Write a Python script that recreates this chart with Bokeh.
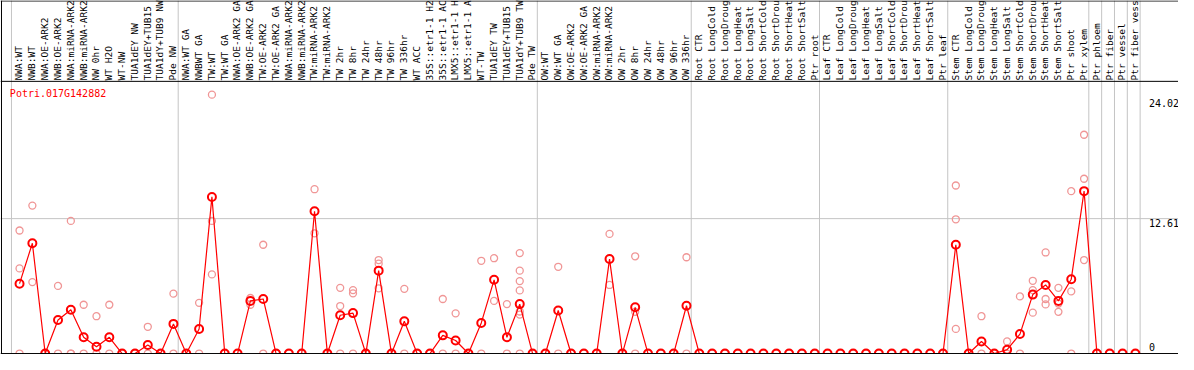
from bokeh.plotting import figure
from bokeh.models import Range1d, Span, ColumnDataSource
from bokeh.core.properties import value
from bokeh.embed import file_html
from bokeh.resources import INLINE
import math

gene_id = "Potri.017G142882"

samples = [
    "NWA:WT", "NWB:WT", "NWA:OE-ARK2", "NWB:OE-ARK2", "NWA:miRNA-ARK2", "NWB:miRNA-ARK2",
    "NW 0hr", "WT H2O", "WT-NW", "TUA1dEY NW", "TUA1dEY+TUB15", "TUA1dY+TUB9 NW", "Pde NW",
    "NWA:WT GA", "NWBWT GA", "TW:WT", "TW:WT GA", "NWA:OE-ARK2 GA", "NWB:OE-ARK2 GA",
    "TW:OE-ARK2", "TW:OE-ARK2 GA", "NWA:miRNA-ARK2", "NWB:miRNA-ARK2", "TW:miRNA-ARK2",
    "TW:miRNA-ARK2", "TW 2hr", "TW 8hr", "TW 24hr", "TW 48hr", "TW 96hr", "TW 336hr",
    "WT ACC", "35S::etr1-1 H2", "35S::etr1-1 AC", "LMX5::etr1-1 H", "LMX5::etr1-1 A",
    "WT-TW", "TUA1dEY TW", "TUA1dEY+TUB15", "TUA1dY+TUB9 TW", "Pde TW",
    "OW:WT", "OW:WT GA", "OW:OE-ARK2", "OW:OE-ARK2 GA", "OW:miRNA-ARK2", "OW:miRNA-ARK2",
    "OW 2hr", "OW 8hr", "OW 24hr", "OW 48hr", "OW 96hr", "OW 336hr",
    "Root CTR", "Root LongCold", "Root LongDroug", "Root LongHeat", "Root LongSalt",
    "Root ShortCold", "Root ShortDrou", "Root ShortHeat", "Root ShortSalt", "Ptr root",
    "Leaf CTR", "Leaf LongCold", "Leaf LongDroug", "Leaf LongHeat", "Leaf LongSalt",
    "Leaf ShortCold", "Leaf ShortDrou", "Leaf ShortHeat", "Leaf ShortSalt", "Ptr leaf",
    "Stem CTR", "Stem LongCold", "Stem LongDroug", "Stem LongHeat", "Stem LongSalt",
    "Stem ShortCold", "Stem ShortDrou", "Stem ShortHeat", "Stem ShortSalt", "Ptr shoot",
    "Ptr xylem",
    "Ptr phloem", "Ptr fiber", "Ptr vessel", "Ptr fiber vess",
]

group_sizes = [13, 28, 12, 10, 10, 11, 1, 1, 1, 1]

mean_values = [
    6.53, 10.31, 0, 3.13, 4.09, 1.52, 0.63, 1.52, 0, 0, 0.80, 0, 2.77,
    0, 2.30, 14.64, 0, 0, 4.92, 5.10, 0, 0, 0, 13.30, 0, 3.58, 3.78, 0, 7.75, 0,
    3.01, 0, 0, 1.70, 1.22, 0, 2.86, 6.89, 1.52, 4.62, 0,
    0, 4.02, 0, 0, 0, 8.83, 0, 4.32, 0, 0, 0, 4.47,
    0, 0, 0, 0, 0, 0, 0, 0, 0, 0,
    0, 0, 0, 0, 0, 0, 0, 0, 0, 0,
    10.17, 0, 1.13, 0, 0.36, 1.82, 5.51, 6.41, 4.92, 6.95, 15.18,
    0, 0, 0, 0,
]

replicates = [
    [11.5, 7.96, 0], [13.83, 6.68], [0], [6.32, 0], [12.4, 0, 0], [4.56, 0], [3.49, 0],
    [4.56, 0], [0], [0], [2.5, 0], [0], [5.6, 0],
    [0], [4.74, 0], [24.2, 12.4, 7.4], [0], [0], [5.19, 4.56], [10.17, 0], [0], [0], [0],
    [15.36, 11.24], [0], [6.14, 4.44, 0], [5.93, 5.63, 0], [0], [8.74, 8.4, 6.1], [0],
    [6.05, 0], [0], [0], [5.1, 0], [3.76, 0], [0], [8.67, 0], [8.91, 4.92], [4.62, 0],
    [9.39, 7.75, 6.77, 5.9, 3.93, 3.64, 0], [0],
    [0], [8.11, 0], [0], [0], [0], [11.18, 6.41], [0], [9.09, 3.9, 0], [0], [0], [0],
    [9.0, 0],
    [0], [0], [0], [0], [0], [0], [0], [0], [0], [0],
    [0], [0], [0], [0], [0], [0], [0], [0], [0], [0],
    [15.71, 12.55, 2.3], [0], [3.49, 0], [0], [1.13, 0], [5.34, 0], [6.8, 5.93, 3.82],
    [9.45, 5.1, 4.59], [6.14, 4.68, 3.9], [15.18, 5.81, 0], [20.45, 16.34, 8.74],
    [0], [0], [0], [0],
]

tick_values = [24.02, 12.61, 0]
tick_labels = ["24.02", "12.61", "0"]

# ---- layout geometry (reference pixel space, mapped to data space) ----
W0, H0 = 1194, 370          # reference canvas
PX0, DX = 19.3, 13.0        # pixel x of first column, column pitch
Y0 = 369.0                  # pixel y of value 0
K = 141.0 / 12.61           # pixels per unit


def ix(px):
    return 1 + (px - PX0) / DX


def vy(py):
    return (Y0 - py) / K


p = figure(width=1178, height=354,
           x_range=Range1d(ix(0), ix(W0)), y_range=Range1d(vy(H0), vy(0)),
           x_axis_type=None, y_axis_type=None, toolbar_location=None,
           output_backend="svg", min_border=0, outline_line_color=None,
           background_fill_color="white", border_fill_color="white")

GRID = "#c4c4c4"

# vertical group separators
b = 0
bounds = [0]
for g in group_sizes:
    b += g
    bounds.append(b)
for bd in bounds:
    p.add_layout(Span(location=bd + 0.37, dimension="height", line_color=GRID,
                      line_width=1, level="underlay"))
# horizontal gridline
p.add_layout(Span(location=tick_values[1], dimension="width", line_color=GRID,
                  line_width=1, level="underlay"))

xs = list(range(1, len(samples) + 1))

rep_x, rep_y = [], []
for i, reps in zip(xs, replicates):
    for r in reps:
        rep_x.append(i)
        rep_y.append(r)

p.scatter(rep_x, rep_y, marker="circle", size=7, fill_color=None,
          line_color="#f09696", line_width=1.3)

src = ColumnDataSource(dict(x=xs, y=mean_values))
p.line("x", "y", source=src, line_color="#ff0000", line_width=1.2)
p.scatter("x", "y", source=src, marker="circle", size=8, fill_color=None,
          line_color="#ff0000", line_width=2)

# rotated sample labels
lab_src = ColumnDataSource(dict(x=[i - 0.05 for i in xs], y=[vy(83.5)] * len(xs), t=samples))
p.text("x", "y", text="t", source=lab_src, angle=math.pi / 2,
       text_align="left", text_baseline="middle", text_color="black",
       text_font=value("DejaVu Sans Mono"), text_font_size="9.5px")

# gene id
p.text(x=[ix(9.5)], y=[vy(97)], text=[gene_id], text_color="#ff0000",
       text_align="left", text_baseline="middle",
       text_font=value("DejaVu Sans Mono"), text_font_size="10px")

# right value labels
offs = [6.3, 4.3, -7.0]
p.text(x=[ix(1164)] * 3, y=[t - o / K for t, o in zip(tick_values, offs)], text=tick_labels,
       text_color="black", text_align="left", text_baseline="middle",
       text_font=value("DejaVu Sans Mono"), text_font_size="10px")

# black frame lines
p.add_layout(Span(location=vy(0.5), dimension="width", line_color="black", line_width=1))
p.add_layout(Span(location=vy(84.5), dimension="width", line_color="black", line_width=1))
p.add_layout(Span(location=0, dimension="width", line_color="black", line_width=1))
p.add_layout(Span(location=ix(1.0), dimension="height", line_color="black", line_width=1))

open("out.html", "w").write(file_html(p, INLINE))
